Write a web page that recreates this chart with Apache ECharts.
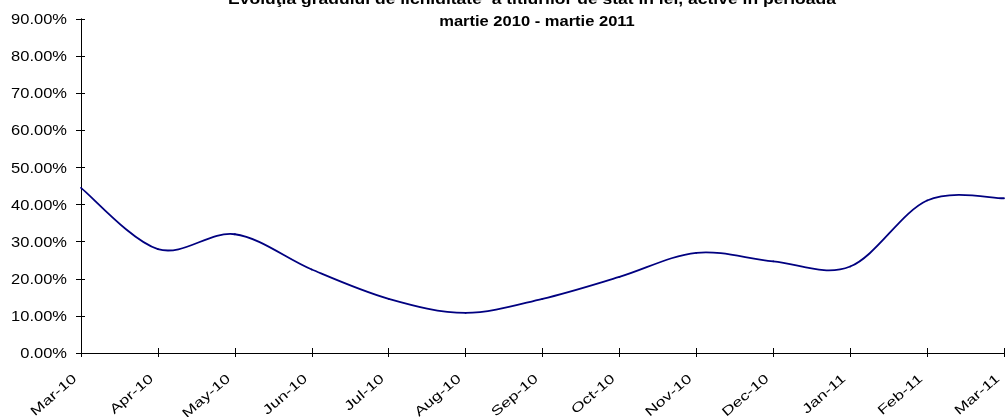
<!DOCTYPE html>
<html>
<head>
<meta charset="utf-8">
<script src="https://cdn.jsdelivr.net/npm/echarts@6/dist/echarts.min.js"></script>
<style>
html,body{margin:0;padding:0;background:#fff;}
#chart{width:1005px;height:417px;}
</style>
</head>
<body>
<div id="chart"></div>
<script>
const titleLine1 = "Evoluţia gradului de lichiditate  a titlurilor de stat în lei, active în perioada";
const titleLine2 = "martie 2010 - martie 2011";
const months = ["Mar-10","Apr-10","May-10","Jun-10","Jul-10","Aug-10","Sep-10","Oct-10","Nov-10","Dec-10","Jan-11","Feb-11","Mar-11"];
const liquidity = [44.5, 28.0, 32.0, 22.5, 14.6, 10.8, 14.6, 20.5, 27.0, 24.7, 23.3, 41.1, 41.7];
const yTickValues = [0, 10, 20, 30, 40, 50, 60, 70, 80, 90];
const yTickLabels = ["0.00%","10.00%","20.00%","30.00%","40.00%","50.00%","60.00%","70.00%","80.00%","90.00%"];

const chart = echarts.init(document.getElementById('chart'), null, {renderer: 'canvas'});
const font = 'Arial, "Liberation Sans", sans-serif';
const xBase = {
  type: 'category', data: months, boundaryGap: false,
  axisLine: {lineStyle: {color: '#000', width: 1}},
  axisLabel: {show: false},
  splitLine: {show: false}
};
const yBase = {
  type: 'value', min: yTickValues[0], max: yTickValues[yTickValues.length - 1], interval: yTickValues[1] - yTickValues[0],
  axisLine: {show: true, lineStyle: {color: '#000', width: 1}},
  axisLabel: {show: false},
  splitLine: {show: false}
};

// Excel-like smoothed line (Catmull-Rom Bezier) built from data via the axis scales
function renderLine(params, api) {
  const pts = liquidity.map((v, i) => api.coord([i, v]));
  const n = pts.length;
  const children = [];
  for (let i = 0; i < n - 1; i++) {
    const p0 = pts[Math.max(i - 1, 0)], p1 = pts[i], p2 = pts[i + 1], p3 = pts[Math.min(i + 2, n - 1)];
    children.push({
      type: 'bezierCurve',
      shape: {
        x1: p1[0], y1: p1[1], x2: p2[0], y2: p2[1],
        cpx1: p1[0] + (p2[0] - p0[0]) / 6, cpy1: p1[1] + (p2[1] - p0[1]) / 6,
        cpx2: p2[0] - (p3[0] - p1[0]) / 6, cpy2: p2[1] - (p3[1] - p1[1]) / 6
      },
      style: {fill: null, stroke: '#000080', lineWidth: 1.8, lineCap: 'round', lineJoin: 'round'}
    });
  }
  return {type: 'group', children: children};
}

chart.setOption({
  animation: false,
  backgroundColor: '#fff',
  grid: {left: 81, right: 1, top: 19, bottom: 64, containLabel: false},
  xAxis: [
    Object.assign({}, xBase, {
      axisTick: {show: true, inside: false, length: 4, lineStyle: {color: '#000'}}
    }),
    Object.assign({}, xBase, {
      position: 'bottom',
      axisTick: {show: true, inside: true, length: 5, lineStyle: {color: '#000'}}
    })
  ],
  yAxis: [
    Object.assign({}, yBase, {
      axisTick: {show: true, inside: false, length: 5, lineStyle: {color: '#000'}}
    }),
    Object.assign({}, yBase, {
      position: 'left',
      axisTick: {show: true, inside: true, length: 4, lineStyle: {color: '#000'}}
    })
  ],
  series: [{
    type: 'custom', coordinateSystem: 'cartesian2d',
    xAxisIndex: 0, yAxisIndex: 0,
    data: [[0, liquidity[0]]],
    encode: {x: 0, y: 1},
    renderItem: renderLine,
    silent: true
  }]
});

// Stretched text (as in the original Excel rendering), positioned with the chart's own scales
const elements = [];
elements.push({
  type: 'text', x: 532, y: 0, scaleX: 1.25,
  style: {text: titleLine1, x: 0, y: 0, align: 'center', verticalAlign: 'middle',
    fontFamily: font, fontSize: 14, fontWeight: 'bold', fill: '#000'}
});
elements.push({
  type: 'text', x: 537, y: 22, scaleX: 1.18,
  style: {text: titleLine2, x: 0, y: 0, align: 'center', verticalAlign: 'middle',
    fontFamily: font, fontSize: 14, fontWeight: 'bold', fill: '#000'}
});
yTickValues.forEach((v, i) => {
  const py = chart.convertToPixel({yAxisIndex: 0}, v);
  elements.push({
    type: 'text', x: 67, y: py + 1, scaleX: 1.1,
    style: {text: yTickLabels[i], x: 0, y: 0, align: 'right', verticalAlign: 'middle',
      fontFamily: font, fontSize: 15, fill: '#000'}
  });
});
const axisY = chart.convertToPixel({yAxisIndex: 0}, yTickValues[0]);
months.forEach((m, i) => {
  const px = chart.convertToPixel({xAxisIndex: 0}, i);
  elements.push({
    type: 'group', x: px - 6, y: axisY + 24, rotation: 41 * Math.PI / 180,
    children: [{
      type: 'text', x: 0, y: 0, scaleX: 1.36,
      style: {text: m, x: 0, y: 0, align: 'right', verticalAlign: 'middle',
        fontFamily: font, fontSize: 13, fill: '#000'}
    }]
  });
});
chart.setOption({graphic: {elements: elements}});
</script>
</body>
</html>
